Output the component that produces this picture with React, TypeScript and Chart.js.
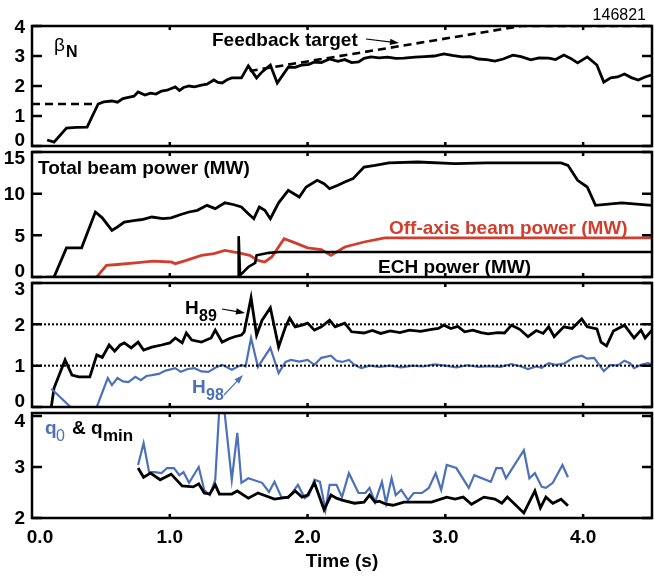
import { useEffect, useRef } from 'react';
import { Chart, registerables } from 'chart.js';

Chart.register(...registerables);

type Pt = [number, number];

// Shared time axis
const TIME_RANGE: Pt = [0, 4.5];
const TIME_TICKS = [0, 1, 2, 3, 4];
const TIME_LABELS = ['0.0', '1.0', '2.0', '3.0', '4.0'];

// Per-panel y ticks
const BETA_TICKS = [0, 1, 2, 3, 4];
const POWER_TICKS = [0, 5, 10, 15];
const H_TICKS = [0, 1, 2, 3];
const Q_TICKS = [2, 3, 4];
const H_REF_LEVELS = [1, 2];

// Normalized beta and its feedback target (target hidden where the trace follows it)
const BETA_N: Pt[] = [
  [0.11, 0.2], [0.16, 0.13], [0.25, 0.6], [0.32, 0.62], [0.4, 0.63], [0.48, 1.4], [0.52, 1.47], [0.58, 1.5],
  [0.62, 1.46], [0.66, 1.58], [0.7, 1.62], [0.74, 1.66], [0.77, 1.8], [0.82, 1.7], [0.86, 1.76], [0.9, 1.73],
  [0.94, 1.83], [0.98, 1.86], [1.04, 1.97], [1.07, 1.85], [1.1, 1.95], [1.14, 2.0], [1.18, 1.97], [1.23, 2.03],
  [1.27, 2.06], [1.32, 2.2], [1.35, 2.12], [1.38, 2.1], [1.42, 2.22], [1.45, 2.27], [1.52, 2.27], [1.57, 2.67],
  [1.63, 2.27], [1.67, 2.47], [1.73, 2.7], [1.78, 2.1], [1.86, 2.63], [1.91, 2.62], [1.96, 2.7], [2.01, 2.72],
  [2.05, 2.8], [2.1, 2.78], [2.16, 2.9], [2.22, 2.82], [2.27, 2.88], [2.32, 2.78], [2.37, 2.8], [2.41, 2.92],
  [2.46, 2.97], [2.52, 2.94], [2.58, 2.96], [2.64, 2.92], [2.7, 2.93], [2.78, 2.96], [2.85, 2.98], [2.92, 3.0],
  [2.99, 3.07], [3.05, 3.02], [3.12, 2.97], [3.18, 2.98], [3.24, 2.9], [3.3, 2.88], [3.36, 2.83], [3.42, 2.9],
  [3.49, 3.03], [3.55, 2.98], [3.62, 2.87], [3.68, 2.94], [3.75, 2.93], [3.8, 2.88], [3.86, 3.03], [3.91, 2.92],
  [3.96, 2.77], [4.03, 2.97], [4.1, 2.7], [4.15, 2.13], [4.2, 2.27], [4.25, 2.3], [4.3, 2.4], [4.35, 2.28],
  [4.4, 2.2], [4.45, 2.3], [4.5, 2.37],
];
const FEEDBACK_TARGET: (Pt | [number, null])[] = [
  [0, 1.4], [0.47, 1.4], [1.0, null], [1.58, 2.5], [3.55, 4.0], [4.5, 4.0],
];

// Heating powers (MW)
const BEAM_TOTAL: Pt[] = [
  [0.16, 0], [0.25, 3.5], [0.36, 3.5], [0.46, 7.8], [0.51, 7.1], [0.58, 5.6], [0.62, 6.0], [0.67, 6.6],
  [0.75, 6.8], [0.8, 6.9], [0.87, 7.2], [0.95, 7.0], [1.01, 7.1], [1.08, 7.5], [1.14, 7.8], [1.2, 8.0],
  [1.27, 8.6], [1.33, 8.2], [1.4, 8.9], [1.46, 8.7], [1.52, 8.4], [1.57, 7.6], [1.61, 7.0], [1.65, 8.4],
  [1.69, 8.0], [1.73, 7.0], [1.79, 8.9], [1.86, 10.4], [1.94, 9.6], [1.99, 10.8], [2.07, 11.6], [2.12, 11.2],
  [2.16, 10.6], [2.22, 11.0], [2.27, 11.4], [2.33, 11.8], [2.41, 13.2], [2.49, 13.4], [2.59, 13.7], [2.8, 13.8],
  [3.07, 13.6], [3.3, 13.7], [3.55, 13.7], [3.84, 13.7], [3.89, 13.4], [3.96, 11.6], [4.03, 10.8], [4.09, 8.6],
  [4.28, 8.9], [4.5, 8.6],
];
const BEAM_OFF_AXIS: Pt[] = [
  [0.47, 0], [0.54, 1.4], [0.62, 1.5], [0.75, 1.7], [0.88, 1.9], [1.01, 1.8], [1.04, 1.6], [1.12, 2.0],
  [1.23, 2.6], [1.32, 2.8], [1.4, 3.2], [1.5, 2.9], [1.58, 2.6], [1.64, 2.0], [1.69, 1.8], [1.74, 2.4],
  [1.83, 4.6], [1.91, 4.1], [2.0, 3.5], [2.1, 3.3], [2.17, 2.6], [2.27, 3.6], [2.41, 4.2], [2.56, 4.7],
  [4.5, 4.7],
];
const ECH_POWER: Pt[] = [
  [0.1, 0], [1.5, 0], [1.5, 4.9], [1.51, 0.2], [1.57, 1.2], [1.62, 1.7], [1.63, 2.6], [1.72, 2.9],
  [1.79, 3.0], [4.5, 3.0],
];

// Confinement factors
const H89: Pt[] = [
  [0.14, 0], [0.16, 0.46], [0.24, 1.14], [0.29, 0.77], [0.34, 0.73], [0.42, 0.73], [0.47, 1.26], [0.51, 1.2],
  [0.56, 1.5], [0.6, 1.35], [0.64, 1.5], [0.67, 1.55], [0.72, 1.43], [0.77, 1.57], [0.81, 1.38], [0.87, 1.45],
  [0.94, 1.5], [1.0, 1.55], [1.04, 1.67], [1.09, 1.55], [1.12, 1.79], [1.16, 1.62], [1.23, 1.57], [1.3, 1.67],
  [1.33, 1.86], [1.38, 1.57], [1.43, 1.65], [1.47, 1.7], [1.52, 1.74], [1.54, 1.82], [1.59, 2.64], [1.63, 1.74],
  [1.67, 2.1], [1.73, 2.4], [1.79, 1.45], [1.84, 1.94], [1.87, 2.15], [1.91, 1.94], [1.96, 1.98], [2.0, 2.03],
  [2.05, 1.86], [2.1, 1.94], [2.16, 2.1], [2.2, 1.94], [2.27, 2.03], [2.32, 1.82], [2.41, 1.79], [2.47, 1.85],
  [2.53, 1.78], [2.6, 1.84], [2.67, 1.8], [2.74, 1.86], [2.82, 1.83], [2.9, 1.88], [2.95, 1.9], [2.99, 1.98],
  [3.04, 1.9], [3.09, 1.95], [3.14, 1.82], [3.2, 1.86], [3.26, 1.8], [3.31, 1.77], [3.38, 1.8], [3.43, 1.79],
  [3.48, 1.98], [3.54, 1.88], [3.6, 1.7], [3.66, 1.85], [3.71, 1.78], [3.75, 1.94], [3.79, 1.7], [3.86, 1.94],
  [3.92, 1.9], [3.99, 2.13], [4.03, 1.94], [4.1, 1.89], [4.13, 1.57], [4.17, 1.48], [4.22, 1.84], [4.3, 1.98],
  [4.37, 1.67], [4.42, 1.86], [4.45, 1.67], [4.5, 1.86],
];
const H98: Pt[] = [
  [0.14, 0.44], [0.28, 0], [0.47, 0], [0.55, 0.7], [0.58, 0.53], [0.62, 0.7], [0.66, 0.62], [0.7, 0.6],
  [0.75, 0.73], [0.79, 0.65], [0.83, 0.75], [0.87, 0.77], [0.92, 0.8], [0.97, 0.88], [1.04, 0.94], [1.08, 0.85],
  [1.13, 0.92], [1.18, 0.94], [1.23, 0.86], [1.28, 0.85], [1.33, 0.95], [1.38, 1.02], [1.45, 0.9], [1.52, 1.02],
  [1.55, 0.98], [1.59, 1.67], [1.64, 0.97], [1.73, 1.43], [1.79, 0.82], [1.84, 1.09], [1.88, 1.14], [1.94, 1.1],
  [2.0, 1.14], [2.05, 1.02], [2.1, 1.19], [2.17, 1.24], [2.21, 1.12], [2.25, 1.09], [2.3, 1.14], [2.34, 1.02],
  [2.39, 0.94], [2.45, 1.0], [2.52, 0.97], [2.6, 1.0], [2.68, 0.96], [2.76, 1.0], [2.84, 0.98], [2.92, 1.03],
  [3.0, 1.0], [3.08, 0.96], [3.16, 1.01], [3.24, 0.97], [3.32, 0.99], [3.4, 0.97], [3.48, 1.04], [3.55, 0.98],
  [3.6, 0.92], [3.66, 0.98], [3.7, 0.95], [3.75, 1.06], [3.8, 1.02], [3.86, 1.05], [3.93, 1.19], [3.99, 1.24],
  [4.03, 1.17], [4.08, 1.19], [4.15, 0.87], [4.2, 1.02], [4.25, 1.0], [4.3, 1.12], [4.34, 1.06], [4.37, 0.94],
  [4.42, 1.02], [4.47, 1.06], [4.5, 1.03],
];

// Safety factor on axis and its minimum
const Q0: Pt[] = [
  [0.77, 3.04], [0.81, 3.47], [0.85, 2.9], [0.89, 2.9], [0.94, 2.88], [0.98, 2.98], [1.03, 2.98], [1.07, 2.84],
  [1.1, 2.9], [1.14, 2.69], [1.21, 3.0], [1.25, 2.55], [1.29, 2.45], [1.33, 2.75], [1.365, 4.4], [1.385, 4.4],
  [1.45, 2.75], [1.49, 3.67], [1.52, 2.69], [1.57, 2.78], [1.67, 2.69], [1.72, 2.51], [1.76, 2.71], [1.81, 2.41],
  [1.86, 2.39], [1.93, 2.65], [1.98, 2.39], [2.01, 2.45], [2.05, 2.75], [2.09, 2.71], [2.13, 2.16], [2.16, 2.65],
  [2.21, 2.65], [2.25, 2.41], [2.3, 2.88], [2.37, 2.49], [2.42, 2.49], [2.45, 2.59], [2.49, 2.31], [2.54, 2.71],
  [2.57, 2.29], [2.61, 2.78], [2.64, 2.45], [2.68, 2.55], [2.73, 2.35], [2.77, 2.49], [2.83, 2.49], [2.88, 2.59],
  [2.93, 2.88], [2.97, 2.55], [3.01, 3.04], [3.08, 2.98], [3.17, 2.59], [3.21, 2.84], [3.33, 2.71], [3.37, 2.98],
  [3.41, 2.98], [3.44, 2.78], [3.57, 3.33], [3.61, 2.78], [3.65, 2.88], [3.7, 2.61], [3.73, 2.59], [3.78, 2.69],
  [3.85, 3.04], [3.89, 2.8],
];
const QMIN: Pt[] = [
  [0.77, 2.98], [0.81, 2.8], [0.86, 2.88], [0.93, 2.75], [1.01, 2.86], [1.09, 2.63], [1.17, 2.61], [1.21, 2.67],
  [1.25, 2.49], [1.29, 2.47], [1.33, 2.65], [1.36, 2.47], [1.45, 2.47], [1.49, 2.53], [1.57, 2.39], [1.64, 2.49],
  [1.76, 2.37], [1.86, 2.41], [1.91, 2.53], [1.96, 2.41], [2.0, 2.45], [2.05, 2.69], [2.12, 2.16], [2.17, 2.45],
  [2.21, 2.39], [2.25, 2.35], [2.34, 2.29], [2.41, 2.31], [2.45, 2.45], [2.49, 2.31], [2.52, 2.33], [2.57, 2.27],
  [2.62, 2.25], [2.7, 2.31], [2.8, 2.31], [2.9, 2.31], [3.01, 2.41], [3.07, 2.37], [3.13, 2.41], [3.19, 2.27],
  [3.28, 2.41], [3.36, 2.37], [3.41, 2.29], [3.45, 2.41], [3.57, 2.1], [3.65, 2.53], [3.69, 2.2], [3.73, 2.41],
  [3.78, 2.29], [3.84, 2.37], [3.89, 2.24],
];

const FONT = '"Liberation Sans", Arial, Helvetica, sans-serif';
const BLACK = '#000000';
const RED = '#d23e2e';
const BLUE = '#4c70b9';
const B19 = `bold 19px ${FONT}`;
const B16 = `bold 16px ${FONT}`;
const B17 = `bold 17px ${FONT}`;

function series(data: (Pt | [number, null])[], color: string, width: number, dash: number[] = []) {
  return {
    data: data.map(([x, y]) => ({ x, y })),
    borderColor: color,
    borderWidth: width,
    borderDash: dash,
    borderJoinStyle: 'miter',
    pointRadius: 0,
    tension: 0,
    fill: false,
    spanGaps: false,
  };
}

function levelLine(v: number) {
  return series([[TIME_RANGE[0], v], [TIME_RANGE[1], v]], BLACK, 2, [2, 2]);
}

function text(ctx: CanvasRenderingContext2D, s: string, x: number, y: number, font: string, color = BLACK, align: CanvasTextAlign = 'left', baseline: CanvasTextBaseline = 'alphabetic') {
  ctx.font = font;
  ctx.fillStyle = color;
  ctx.textAlign = align;
  ctx.textBaseline = baseline;
  ctx.fillText(s, x, y);
}

function arrow(ctx: CanvasRenderingContext2D, x1: number, y1: number, x2: number, y2: number, color = BLACK) {
  const a = Math.atan2(y2 - y1, x2 - x1);
  const len = 9;
  const half = 3.2;
  ctx.strokeStyle = color;
  ctx.fillStyle = color;
  ctx.lineWidth = 1.2;
  ctx.setLineDash([]);
  ctx.beginPath();
  ctx.moveTo(x1, y1);
  ctx.lineTo(x2 - Math.cos(a) * len * 0.6, y2 - Math.sin(a) * len * 0.6);
  ctx.stroke();
  ctx.beginPath();
  ctx.moveTo(x2, y2);
  ctx.lineTo(x2 - Math.cos(a) * len + Math.sin(a) * half, y2 - Math.sin(a) * len - Math.cos(a) * half);
  ctx.lineTo(x2 - Math.cos(a) * len - Math.sin(a) * half, y2 - Math.sin(a) * len + Math.cos(a) * half);
  ctx.closePath();
  ctx.fill();
}

interface Panel {
  top: number;
  height: number;
  padTop: number;
  padBottom: number;
  yMin: number;
  yMax: number;
  yTicks: number[];
  labelShift: [number, number]; // vertical shift of the lowest and highest y label
  showTime: boolean;
  datasets: any[];
  notes: (ctx: CanvasRenderingContext2D) => void;
}

const PANELS: Panel[] = [
  {
    top: 0, height: 166, padTop: 26, padBottom: 20, yMin: 0, yMax: 4, yTicks: BETA_TICKS, labelShift: [-6, 1],
    showTime: false,
    datasets: [series(FEEDBACK_TARGET, BLACK, 2.6, [8, 5]), series(BETA_N, BLACK, 2.8)],
    notes: (ctx) => {
      text(ctx, 'β', 54, 51, `normal 19px ${FONT}`);
      text(ctx, 'N', 66, 57, `bold 16px ${FONT}`);
      text(ctx, 'Feedback target', 212, 46, B19);
      arrow(ctx, 366, 39, 399, 43);
      text(ctx, '146821', 646, 20, `normal 16px ${FONT}`, BLACK, 'right');
    },
  },
  {
    top: 132, height: 165, padTop: 20, padBottom: 20, yMin: 0, yMax: 15, yTicks: POWER_TICKS, labelShift: [-6, 6],
    showTime: false,
    datasets: [series(ECH_POWER, BLACK, 2.6), series(BEAM_OFF_AXIS, RED, 2.8), series(BEAM_TOTAL, BLACK, 2.8)],
    notes: (ctx) => {
      text(ctx, 'Total beam power (MW)', 38, 174, B19);
      text(ctx, 'Off-axis beam power (MW)', 389, 234, B19, RED);
      text(ctx, 'ECH power (MW)', 378, 273, B19);
    },
  },
  {
    top: 263, height: 164, padTop: 20, padBottom: 20, yMin: 0, yMax: 3, yTicks: H_TICKS, labelShift: [-6, 6],
    showTime: false,
    datasets: [...H_REF_LEVELS.map(levelLine), series(H98, BLUE, 2.2), series(H89, BLACK, 2.8)],
    notes: (ctx) => {
      text(ctx, 'H', 185, 314, B19);
      text(ctx, '89', 199, 321, B16);
      arrow(ctx, 222, 309, 245, 313);
      text(ctx, 'H', 192, 393, B19, BLUE);
      text(ctx, '98', 206, 400, B16, BLUE);
      arrow(ctx, 224, 395, 243, 375, BLUE);
    },
  },
  {
    top: 393, height: 185, padTop: 20, padBottom: 0, yMin: 2, yMax: 4.06, yTicks: Q_TICKS, labelShift: [0, 5],
    showTime: true,
    datasets: [series(QMIN, BLACK, 2.8), series(Q0, BLUE, 2.2)],
    notes: (ctx) => {
      text(ctx, 'q', 45, 434, B19, BLUE);
      text(ctx, '0', 56, 441, `normal 16px ${FONT}`, BLUE);
      text(ctx, '&', 72, 434, B19);
      text(ctx, 'q', 91, 434, B19);
      text(ctx, 'min', 103, 441, B17);
    },
  },
];

function makeConfig(p: Panel): any {
  const framePlugin = {
    id: 'panelFrame',
    afterDatasetsDraw(chart: any) {
      const { ctx, chartArea: a, scales } = chart;
      ctx.save();
      ctx.strokeStyle = BLACK;
      ctx.setLineDash([]);
      ctx.lineWidth = 2.5;
      ctx.beginPath();
      for (const t of TIME_TICKS) {
        if (t <= TIME_RANGE[0]) continue;
        const x = scales.x.getPixelForValue(t);
        ctx.moveTo(x, a.top);
        ctx.lineTo(x, a.top + 4);
        ctx.moveTo(x, a.bottom);
        ctx.lineTo(x, a.bottom - 4);
      }
      for (const v of p.yTicks) {
        const y = scales.y.getPixelForValue(v);
        ctx.moveTo(a.left, y);
        ctx.lineTo(a.left + 10, y);
        ctx.moveTo(a.right, y);
        ctx.lineTo(a.right - 10, y);
      }
      ctx.stroke();
      ctx.strokeRect(a.left, a.top, a.right - a.left, a.bottom - a.top);

      // y tick labels, end labels pulled inside the panel
      p.yTicks.forEach((v, i) => {
        let dy = 0;
        if (i === 0) dy = p.labelShift[0];
        if (i === p.yTicks.length - 1) dy = p.labelShift[1];
        const y = scales.y.getPixelForValue(v) + dy;
        text(ctx, String(v), a.left - 7, y + 1, B19, BLACK, 'right', 'middle');
      });

      // time tick labels on the bottom panel
      if (p.showTime) {
        TIME_TICKS.forEach((t, i) => {
          const x = scales.x.getPixelForValue(t) + (i === 0 ? 8 : 0);
          text(ctx, TIME_LABELS[i], x, a.bottom + 20, B19, BLACK, 'center', 'middle');
        });
      }
      ctx.restore();
    },
    afterDraw(chart: any) {
      const ctx = chart.ctx as CanvasRenderingContext2D;
      ctx.save();
      ctx.translate(0, -p.top);
      p.notes(ctx);
      ctx.restore();
    },
  };

  return {
    type: 'line',
    data: { datasets: p.datasets },
    plugins: [framePlugin],
    options: {
      responsive: false,
      maintainAspectRatio: false,
      animation: false,
      events: [],
      layout: { padding: { top: p.padTop, bottom: p.padBottom, left: 0, right: 2 } },
      plugins: { legend: { display: false }, tooltip: { enabled: false } },
      scales: {
        x: {
          type: 'linear',
          min: TIME_RANGE[0],
          max: TIME_RANGE[1],
          display: p.showTime,
          afterBuildTicks: (s: any) => { s.ticks = TIME_TICKS.map((value) => ({ value })); },
          afterFit: (s: any) => { if (p.showTime) s.height = 60; },
          grid: { display: false, drawTicks: false },
          border: { display: false },
          ticks: { display: false },
          title: {
            display: true,
            text: 'Time (s)',
            color: BLACK,
            font: { family: FONT, size: 19, weight: 'bold' },
            padding: { top: 0, bottom: 5 },
          },
        },
        y: {
          type: 'linear',
          min: p.yMin,
          max: p.yMax,
          afterBuildTicks: (s: any) => { s.ticks = p.yTicks.map((value) => ({ value })); },
          afterFit: (s: any) => { s.width = 32; },
          grid: { display: false, drawTicks: false },
          border: { display: false },
          ticks: { display: false },
        },
      },
    },
  };
}

export default function App() {
  const refs = useRef<(HTMLCanvasElement | null)[]>([]);

  useEffect(() => {
    const charts = PANELS.map((p, i) => new Chart(refs.current[i] as HTMLCanvasElement, makeConfig(p)));
    return () => charts.forEach((c) => c.destroy());
  }, []);

  return (
    <div style={{ position: 'absolute', left: 0, top: 0, width: 654, height: 578, background: '#ffffff' }}>
      {PANELS.map((p, i) => (
        <canvas
          key={i}
          ref={(el) => { refs.current[i] = el; }}
          width={654}
          height={p.height}
          style={{ position: 'absolute', left: 0, top: p.top, width: 654, height: p.height }}
        />
      ))}
    </div>
  );
}
